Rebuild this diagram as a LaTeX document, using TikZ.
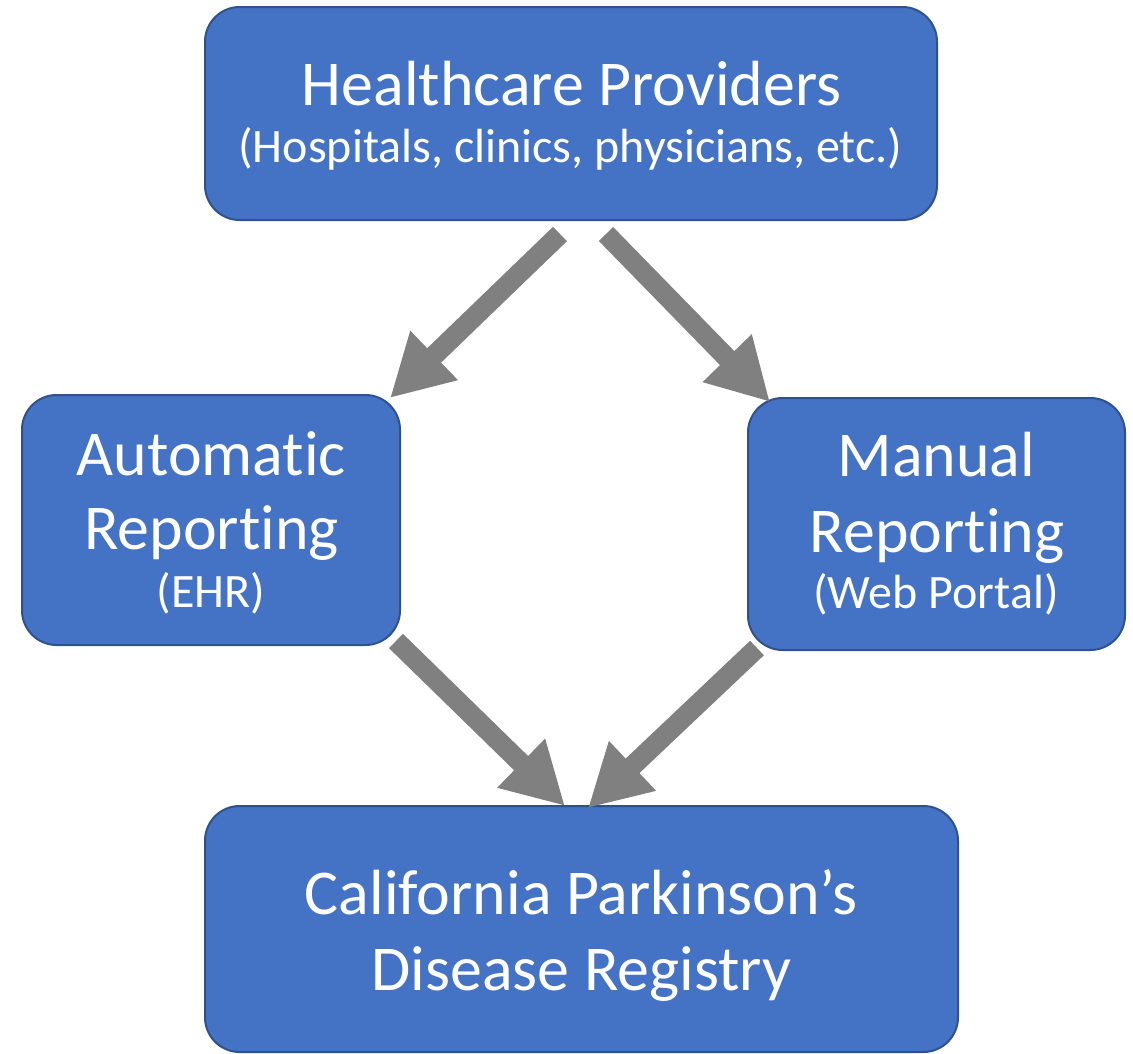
\documentclass[tikz,border=0pt]{standalone}
\usepackage{fontspec}
\setmainfont{Carlito}[Ligatures=NoCommon]
\usetikzlibrary{arrows.meta}
\definecolor{boxfill}{HTML}{4472C4}
\definecolor{boxline}{HTML}{2F528F}
\definecolor{arrowgray}{HTML}{808080}
\begin{document}
\begin{tikzpicture}[x=0.75pt,y=-0.75pt,
  stagebox/.style={draw=boxline, line width=1.5pt, fill=boxfill, rounded corners=26pt,
    inner sep=0pt, outer sep=0pt},
  bigtext/.style={text=white, inner sep=0pt, anchor=base, font=\fontsize{47.9}{56}\selectfont},
  smalltext/.style={text=white, inner sep=0pt, anchor=base, font=\fontsize{36}{44}\selectfont},
  flow/.style={draw=arrowgray, line width=15pt,
    -{Triangle[length=46pt,width=48pt]}}]
\useasboundingbox (0,0) rectangle (1133,1054);

% the four stages
\node[stagebox, minimum width=549pt, minimum height=159.75pt] (prov) at (571,113.5) {};
\node[stagebox, minimum width=283.5pt, minimum height=187.5pt] (auto) at (211,520) {};
\node[stagebox, minimum width=282.75pt, minimum height=189pt] (manual) at (936.5,524) {};
\node[stagebox, minimum width=564.75pt, minimum height=184.5pt] (registry) at (581.5,929) {};

% stage labels
\node[bigtext] (provA) at (571.5,105) {Healthcare Providers};
\node[smalltext] (provB) at (570.5,162) {(Hospitals, clinics, physicians, etc.)};
\node[bigtext] (autoA) at (211.5,475) {Automatic};
\node[bigtext] (autoB) at (211.5,549) {Reporting};
\node[smalltext] (autoC) at (211,607) {(EHR)};
\node[bigtext] (manA) at (936.5,476) {Manual};
\node[bigtext] (manB) at (937,552) {Reporting};
\node[smalltext] (manC) at (936,608) {(Web Portal)};
\node[bigtext] (regA) at (581,914) {California Parkinson’s};
\node[bigtext] (regB) at (581.5,990) {Disease Registry};

% arrow ends
\coordinate (a1s) at (560,234);
\coordinate (a1t) at (390,398);
\coordinate (a2s) at (606,234);
\coordinate (a2t) at (770,402);
\coordinate (a3s) at (396,641);
\coordinate (a3t) at (565,806);
\coordinate (a4s) at (757,648);
\coordinate (a4t) at (588,808);

\draw[flow] (a1s) -- (a1t);
\draw[flow] (a2s) -- (a2t);
\draw[flow] (a3s) -- (a3t);
\draw[flow] (a4s) -- (a4t);
\end{tikzpicture}
\end{document}
